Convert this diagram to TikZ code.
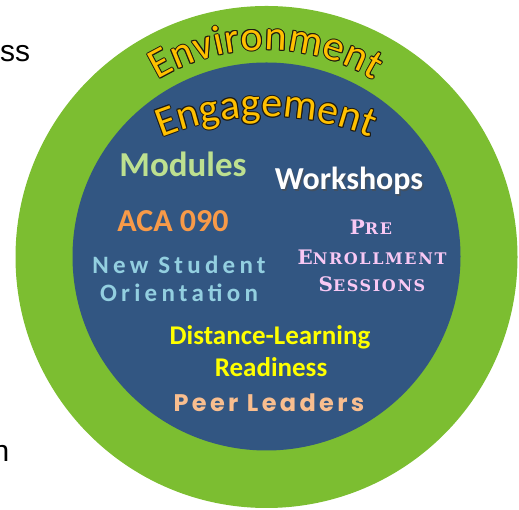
\documentclass[tikz,border=0pt]{standalone}
\usepackage{fontspec}
\usetikzlibrary{decorations.text,calc}

\newfontfamily\calib{Carlito}
\newfontfamily\calibwide[LetterSpace=17]{Carlito}
\newfontfamily\arialish{Liberation Sans}
\newfontfamily\copper[LetterSpace=10]{DejaVu Serif}
\newfontfamily\peerfont[LetterSpace=14]{Poppins}

\definecolor{ring}{HTML}{7CBE31}
\definecolor{core}{HTML}{325682}
\definecolor{wordgold}{HTML}{FFC000}
\definecolor{wordline}{HTML}{1E1A10}
\definecolor{modgreen}{HTML}{BDE090}
\definecolor{acaorange}{HTML}{F89A48}
\definecolor{nsoblue}{HTML}{93CFE0}
\definecolor{prepink}{HTML}{F8C8F4}
\definecolor{dlyellow}{HTML}{FFFF00}
\definecolor{peerpeach}{HTML}{F9BE8F}

% word set along an arc, gold with a dark contour
\newcommand\arcword[5]{%
  \foreach \ox/\oy in {1/0,-1/0,0/1,0/-1,0.7/0.7,-0.7/0.7,0.7/-0.7,-0.7/-0.7}{%
    \path[decorate,
      decoration={text along path, text align=fit to path, text={|#4\color{wordline}|#5}}]
      ($(#1)+(\ox,\oy)+(90+#3:#2)$) arc[start angle=90+#3, end angle=90-#3, radius=#2];
  }%
  \path[decorate,
    decoration={text along path, text align=fit to path, text={|#4\color{wordgold}|#5}}]
    ($(#1)+(90+#3:#2)$) arc[start angle=90+#3, end angle=90-#3, radius=#2];
}

\newcommand\arcfont{\calib\fontsize{42}{48}\selectfont}

\tikzset{
  label text/.style={inner sep=0pt, anchor=base},
  sidetext/.style={label text, font=\arialish\fontsize{30}{36}\selectfont, text=black},
}

\begin{document}
\begin{tikzpicture}[x=1pt,y=1pt]
  \useasboundingbox (0,0) rectangle (519,510);
  \clip (0,0) rectangle (519,510);

  % fragments of the neighbouring text column
  \node[sidetext, anchor=base west] (ss) at (0,448) {ss};
  \node[sidetext, anchor=base east] (comma) at (2.5,389) {,};
  \node[sidetext, anchor=base east] (nn) at (9.5,48) {n};

  % the two rings
  \node[circle, fill=ring, minimum size=502pt, inner sep=0pt] (outer) at (266.5,253) {};
  \node[circle, fill=core, minimum size=388pt, inner sep=0pt] (inner) at (266.5,253.5) {};

  % curved titles
  \coordinate (envc) at (266,250);
  \coordinate (engc) at (266,113);
  \arcword{envc}{210}{31}{\arcfont}{Environment}
  \arcword{engc}{280}{22}{\arcfont}{Engagement}

  % items inside the core
  \node[label text, text=modgreen, font=\calib\bfseries\fontsize{35}{40}\selectfont] (modules) at (183,333) {Modules};
  \node[label text, text=black!70, opacity=0.6, font=\calib\bfseries\fontsize{32}{38}\selectfont] (workshade) at (350.5,318.5) {Workshops};
  \node[label text, text=white, font=\calib\bfseries\fontsize{32}{38}\selectfont] (workshops) at (349,320) {Workshops};
  \node[label text, text=acaorange, font=\calib\bfseries\fontsize{32}{38}\selectfont] (aca) at (173,278) {ACA 090};

  \node[label text, text=nsoblue, font=\calibwide\bfseries\fontsize{25}{30}\selectfont] (nso1) at (179,236) {New Student};
  \node[label text, text=nsoblue, font=\calibwide\bfseries\fontsize{25}{30}\selectfont] (nso2) at (179,208) {Orientation};

  \node[label text, text=prepink, font=\copper\bfseries] (pre1) at (371,275)
    {\fontsize{20}{24}\selectfont P\fontsize{16}{20}\selectfont RE};
  \node[label text, text=prepink, font=\copper\bfseries] (pre2) at (372,245)
    {\fontsize{20}{24}\selectfont E\fontsize{16}{20}\selectfont NROLLMENT};
  \node[label text, text=prepink, font=\copper\bfseries] (pre3) at (372,218)
    {\fontsize{20}{24}\selectfont S\fontsize{16}{20}\selectfont ESSIONS};

  \node[label text, text=dlyellow, font=\calib\bfseries\fontsize{27}{32}\selectfont] (dl1) at (270,165) {Distance-Learning};
  \node[label text, text=dlyellow, font=\calib\bfseries\fontsize{27}{32}\selectfont] (dl2) at (271,133) {Readiness};

  \node[label text, text=peerpeach, font=\peerfont\bfseries\fontsize{24}{28}\selectfont] (peer) at (269,98) {Peer Leaders};
\end{tikzpicture}
\end{document}
